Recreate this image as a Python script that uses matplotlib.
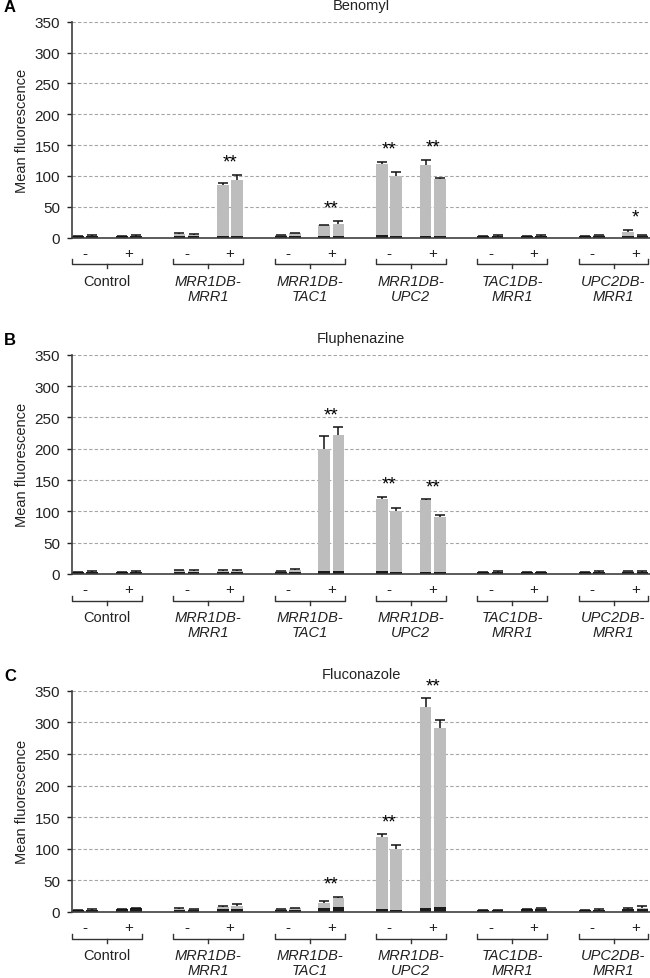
import numpy as np
import matplotlib.pyplot as plt

plt.rcParams['font.family'] = ['Liberation Sans', 'DejaVu Sans']

# groups and conditions
groups = ['Control', 'MRR1DB-\nMRR1', 'MRR1DB-\nTAC1', 'MRR1DB-\nUPC2', 'TAC1DB-\nMRR1', 'UPC2DB-\nMRR1']
conditions = ['-', '+']
drugs = ['Benomyl', 'Fluphenazine', 'Fluconazole']
letters = ['A', 'B', 'C']
yticks = [0, 50, 100, 150, 200, 250, 300, 350]

# 4 bars per group: (-, -, +, +); gray = induced total, dark = baseline
benomyl_gray = [3, 3.5, 3, 3.5,  6, 5, 86, 94,  4, 7, 20, 22,  120, 100, 118, 95,  3, 3.5, 3, 3.5,  3, 4, 10, 4]
benomyl_err = [0.5, 0.5, 0.5, 0.5,  1, 1, 2, 8,  0.5, 1, 1, 5,  3, 6, 8, 1,  0.5, 0.5, 0.5, 0.5,  0.5, 0.5, 3, 1]
benomyl_dark = [3, 3, 3, 3,  3, 2.5, 2.5, 2.5,  3, 2.5, 2.5, 2.5,  4, 3, 3, 3,  3, 3, 3, 3,  3, 2.5, 3, 2.5]

fluphenazine_gray = [3, 3.5, 3, 3.5,  6, 5, 5, 5,  4, 7, 200, 222,  120, 100, 118, 91,  3, 3.5, 3, 3,  3, 3.5, 4, 3.5]
fluphenazine_err = [0.5, 0.5, 0.5, 0.5,  1, 1, 1, 1,  0.5, 1, 20, 12,  3, 6, 1, 3,  0.5, 0.5, 0.5, 0.5,  0.5, 0.5, 0.5, 0.5]
fluphenazine_dark = [3, 3, 3, 3,  2.5, 2.5, 2.5, 2.5,  3, 2.5, 5, 5,  4, 3, 3, 3,  3, 3, 3, 3,  3, 2.5, 3, 3]

fluconazole_gray = [3, 3.5, 4, 6,  5, 4, 8, 9,  4, 6, 15, 22,  119, 100, 324, 291,  2.5, 3, 5, 6,  3, 3.5, 5, 6]
fluconazole_err = [0.5, 0.5, 0.5, 0.5,  1, 1, 2, 3,  0.5, 1, 3, 2,  4, 6, 14, 12,  0.5, 0.5, 0.5, 1,  0.5, 1, 1, 3]
fluconazole_dark = [3, 3, 4.5, 6,  2.5, 2.5, 5, 5,  3, 2.5, 6, 8,  4, 3, 7, 8,  2.5, 2.5, 4.5, 5,  2.5, 2.5, 5, 5]

# significance marks: (group index, condition index, label)
benomyl_stars = [(1, 1, '**'), (2, 1, '**'), (3, 0, '**'), (3, 1, '**'), (5, 1, '*')]
fluphenazine_stars = [(2, 1, '**'), (3, 0, '**'), (3, 1, '**')]
fluconazole_stars = [(2, 1, '**'), (3, 0, '**'), (3, 1, '**')]

gray_all = [benomyl_gray, fluphenazine_gray, fluconazole_gray]
err_all = [benomyl_err, fluphenazine_err, fluconazole_err]
dark_all = [benomyl_dark, fluphenazine_dark, fluconazole_dark]
stars_all = [benomyl_stars, fluphenazine_stars, fluconazole_stars]

bar_off = np.array([-0.285, -0.145, 0.145, 0.285])
pair_off = np.array([-0.215, 0.215])
bar_w = 0.116

W, H = 650, 979
fig = plt.figure(figsize=(W / 100, H / 100), dpi=100)

# axes top/bottom in pixels
ax_pix = [(22.7, 238.7), (355.7, 575.0), (691.7, 913.0)]
left_px, right_px = 72, 650

for p in range(3):
    top, bot = ax_pix[p]
    ax = fig.add_axes([left_px / W, 1 - bot / H, (right_px - left_px) / W, (bot - top) / H])
    hpx = bot - top

    x = (np.arange(len(groups))[:, None] + bar_off[None, :]).ravel()
    gray = np.array(gray_all[p], dtype=float)
    err = np.array(err_all[p], dtype=float)
    dark = np.array(dark_all[p], dtype=float)

    ax.bar(x, gray, width=bar_w, color='#bdbdbd', zorder=2)
    ax.bar(x, dark, width=bar_w, color='#1c1c1c', zorder=3)
    eb = ax.errorbar(x, gray, yerr=[np.zeros_like(err), err], fmt='none', ecolor='#111111',
                     elinewidth=1.1, capsize=3.3, capthick=1.1, zorder=4)
    eb[1][0].set_visible(False)  # only the upper cap

    ax.set_xlim(-0.345, 5.36)
    ax.set_ylim(0, 350)
    ax.set_yticks(yticks)
    ax.set_xticks([])
    ax.tick_params(axis='y', labelsize=11, length=3.5, width=1, pad=5, colors='#222222')
    ax.yaxis.grid(True, linestyle=(0, (3, 2)), color='#a5a5a5', linewidth=0.8, zorder=0)
    ax.set_axisbelow(True)
    for s in ['top', 'right']:
        ax.spines[s].set_visible(False)
    for s in ['left', 'bottom']:
        ax.spines[s].set_color('#404040')
        ax.spines[s].set_linewidth(1.2)
        ax.spines[s].set_zorder(5)

    ax.set_ylabel('Mean fluorescence', fontsize=10.5, color='#222222')
    ax.yaxis.set_label_coords((29 - left_px) / (right_px - left_px), 0.5)
    ax.set_title(drugs[p], fontsize=10.5, pad=9, color='#222222')
    fig.text(4 / W, 1 - (top - 15) / H, letters[p], fontsize=12, fontweight='bold',
             ha='left', va='center')

    xt = ax.get_xaxis_transform()
    for g, name in enumerate(groups):
        for c, cond in enumerate(conditions):
            ax.text(g + pair_off[c], -15.5 / hpx, cond, transform=xt, ha='center', va='center',
                    fontsize=11, color='#222222')
        bx = [g - 0.345, g - 0.345, g + 0.345, g + 0.345]
        by = np.array([-21.5, -26.5, -26.5, -21.5]) / hpx
        ax.plot(bx, by, transform=xt, color='#333333', lw=1, clip_on=False)
        ax.plot([g, g], np.array([-26.5, -30.5]) / hpx, transform=xt, color='#333333',
                lw=1, clip_on=False)
        ycen = -50.5 if '\n' in name else -43
        ax.text(g, ycen / hpx, name, transform=xt, ha='center', va='center', fontsize=10.5,
                linespacing=1.1, color='#222222',
                fontstyle='normal' if g == 0 else 'italic')

    for g, c, lab in stars_all[p]:
        i0 = g * 4 + c * 2
        ytop = max(gray[i0] + err[i0], gray[i0 + 1] + err[i0 + 1])
        ax.annotate(lab, xy=(g + pair_off[c], ytop), xytext=(0, 3), textcoords='offset points',
                    ha='center', va='bottom', fontsize=13.5, annotation_clip=False)

fig.savefig('out.png', dpi=100)
